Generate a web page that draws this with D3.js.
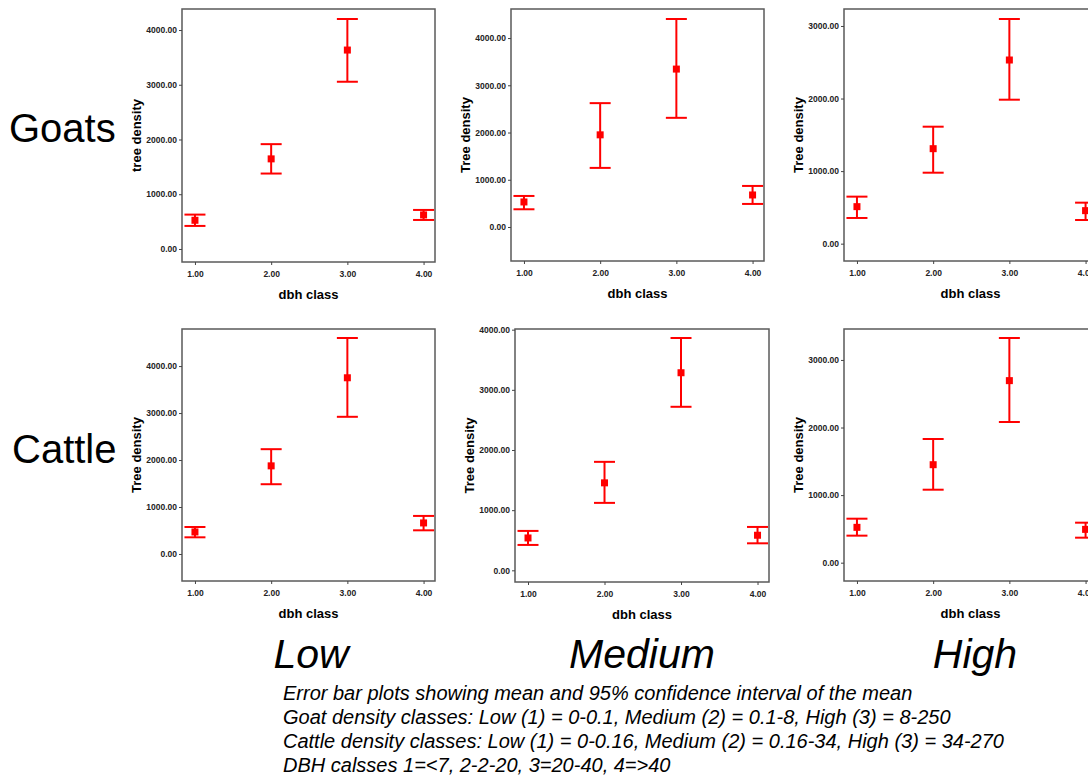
<!DOCTYPE html>
<html>
<head>
<meta charset="utf-8">
<script src="https://cdn.jsdelivr.net/npm/d3@7"></script>
<style>
  body { margin: 0; background: #fff; }
  svg { display: block; font-family: "Liberation Sans", Arial, sans-serif; }
  .tick text { font-size: 8.5px; font-weight: bold; fill: #222; }
  .tick line { stroke: #444; }
</style>
</head>
<body>
<svg id="chart" width="1088" height="778"></svg>
<script>
// dbh classes on the x axis
const dbhClasses = [1, 2, 3, 4];
const densityLevels = ["Low", "Medium", "High"];
const species = ["Goats", "Cattle"];

// mean and 95% CI per density level (rows: Low, Medium, High)
const goatMean  = [[524, 1646, 3634, 622], [530, 1951, 3343, 678], [510, 1309, 2531, 455]];
const goatLower = [[421, 1378, 3055, 530], [375, 1251, 2311, 488], [354, 978, 1984, 326]];
const goatUpper = [[628, 1915, 4201, 713], [657, 2622, 4403, 869], [648, 1612, 3096, 565]];

const cattleMean  = [[469, 1876, 3751, 661], [538, 1454, 3284, 583], [523, 1450, 2694, 493]];
const cattleLower = [[355, 1485, 2920, 504], [422, 1121, 2718, 449], [400, 1080, 2082, 370]];
const cattleUpper = [[575, 2231, 4597, 810], [655, 1803, 3861, 721], [651, 1830, 3325, 592]];

// axis ranges as printed by SPSS
const goatYRange   = [[-238, 4384], [-720, 4615], [-239, 3234]];
const cattleYRange = [[-575, 4789], [-194, 4011], [-271, 3458]];
const goatYTicks   = [[0, 1000, 2000, 3000, 4000], [0, 1000, 2000, 3000, 4000], [0, 1000, 2000, 3000]];
const cattleYTicks = [[0, 1000, 2000, 3000, 4000], [0, 1000, 2000, 3000, 4000], [0, 1000, 2000, 3000]];
const goatYLabels   = ["tree density", "Tree density", "Tree density"];
const cattleYLabels = ["Tree density", "Tree density", "Tree density"];

const captionLines = [
    "Error bar plots showing mean and 95% confidence interval of the mean",
    "Goat density classes: Low (1) = 0-0.1, Medium (2) = 0.1-8, High (3) = 8-250",
    "Cattle density classes: Low (1) = 0-0.16, Medium (2) = 0.16-34, High (3) = 34-270",
    "DBH calsses 1=<7, 2-2-20, 3=20-40, 4=>40"
];

const svg = d3.select("#chart");
const red = "#ff0000";

// frame boxes of the six panels [left, top, width, height]
const frames = [
    [[182, 9, 253, 253], [511, 9, 253, 252], [844, 9, 253, 252]],
    [[182, 329, 253, 252], [515, 329, 254, 253], [844, 329, 253, 252]]
];

function drawPanel(box, mean, lower, upper, yRange, yTicks, yLabel) {
    let [left, top, w, h] = box;
    let g = svg.append("g").attr("transform", `translate(${left},${top})`);

    let x = d3.scaleLinear().domain([0.83, 4.15]).range([0, w]);
    let y = d3.scaleLinear().domain(yRange).range([h, 0]);

    g.append("rect")
        .attr("width", w).attr("height", h)
        .attr("fill", "none")
        .attr("stroke", "#5a5a5a")
        .attr("stroke-width", 1.5);

    let yAxis = g.append("g")
        .call(d3.axisLeft(y).tickValues(yTicks).tickFormat(d3.format(".2f")).tickSize(3).tickPadding(2));
    yAxis.select(".domain").remove();

    let xAxis = g.append("g")
        .attr("transform", `translate(0,${h})`)
        .call(d3.axisBottom(x).tickValues(dbhClasses).tickFormat(d3.format(".2f")).tickSize(3).tickPadding(6));
    xAxis.select(".domain").remove();

    g.append("text")
        .attr("transform", `translate(${-46},${h / 2}) rotate(-90)`)
        .attr("text-anchor", "middle")
        .attr("dominant-baseline", "central")
        .style("font-size", "13px")
        .style("font-weight", "bold")
        .text(yLabel);

    g.append("text")
        .attr("x", w / 2)
        .attr("y", h + 37)
        .attr("text-anchor", "middle")
        .style("font-size", "13px")
        .style("font-weight", "bold")
        .text("dbh class");

    let rows = dbhClasses.map((c, i) => ({c: c, m: mean[i], lo: lower[i], hi: upper[i]}));
    let cap = 10.5;

    let bars = g.selectAll(".bar").data(rows).enter().append("g").classed("bar", true);
    bars.append("line")
        .attr("x1", d => x(d.c)).attr("x2", d => x(d.c))
        .attr("y1", d => y(d.lo)).attr("y2", d => y(d.hi))
        .attr("stroke", red).attr("stroke-width", 2);
    bars.append("line")
        .attr("x1", d => x(d.c) - cap).attr("x2", d => x(d.c) + cap)
        .attr("y1", d => y(d.hi)).attr("y2", d => y(d.hi))
        .attr("stroke", red).attr("stroke-width", 2);
    bars.append("line")
        .attr("x1", d => x(d.c) - cap).attr("x2", d => x(d.c) + cap)
        .attr("y1", d => y(d.lo)).attr("y2", d => y(d.lo))
        .attr("stroke", red).attr("stroke-width", 2);
    bars.append("rect")
        .attr("x", d => x(d.c) - 3.5).attr("y", d => y(d.m) - 3.5)
        .attr("width", 7).attr("height", 7)
        .attr("fill", red);
}

for (let k = 0; k < 3; k++) {
    drawPanel(frames[0][k], goatMean[k], goatLower[k], goatUpper[k], goatYRange[k], goatYTicks[k], goatYLabels[k]);
    drawPanel(frames[1][k], cattleMean[k], cattleLower[k], cattleUpper[k], cattleYRange[k], cattleYTicks[k], cattleYLabels[k]);
}

// row labels
svg.append("text").attr("x", 9).attr("y", 142).style("font-size", "40px").text(species[0]);
svg.append("text").attr("x", 12).attr("y", 463).style("font-size", "40px").text(species[1]);

// column labels
let colCenters = [311, 642, 975];
svg.selectAll(".col-label").data(densityLevels).enter().append("text")
    .classed("col-label", true)
    .attr("x", (d, i) => colCenters[i])
    .attr("y", 668)
    .attr("text-anchor", "middle")
    .style("font-size", "41px")
    .style("font-style", "italic")
    .text(d => d);

// caption
svg.selectAll(".caption").data(captionLines).enter().append("text")
    .classed("caption", true)
    .attr("x", 283)
    .attr("y", (d, i) => 700 + i * 24)
    .style("font-size", "20px")
    .style("font-style", "italic")
    .text(d => d);
</script>
</body>
</html>
